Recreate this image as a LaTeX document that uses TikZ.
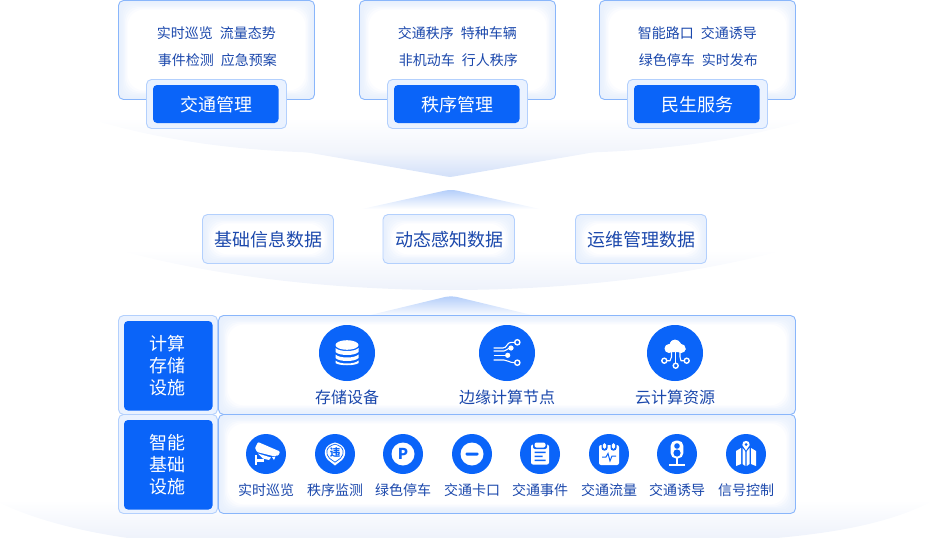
\documentclass[tikz,border=0pt]{standalone}
\usepackage{fontspec}
\setmainfont{Noto Sans CJK SC}
\definecolor{brand}{HTML}{0A64F9}
\definecolor{ink}{HTML}{1B48AC}
\definecolor{edgeblue}{HTML}{89B6FB}
\definecolor{edgesoft}{HTML}{B3D0FD}
\definecolor{glow}{HTML}{E8F0FD}
\definecolor{halo}{HTML}{EAF2FF}
\definecolor{lens}{HTML}{EEF2FB}
\definecolor{tip}{HTML}{D2E0F9}
\definecolor{peak}{HTML}{B4CEFA}
\tikzset{
  fs/.style={font=\fontsize{#1}{#1}\selectfont,inner sep=0pt},
  labelsm/.style={fs=14,text=ink},
  labelmd/.style={fs=16,text=ink},
  labellg/.style={fs=18,text=ink},
  btntext/.style={fs=18,text=white,align=center},
  sidetext/.style={fs=18,text=white,align=center,execute at begin node={\baselineskip=22pt}},
  icw/.style={fill=white,draw=none},
  icl/.style={draw=white,line width=1.1pt,fill=none},
  icb/.style={fill=brand,draw=none},
  disc/.style={circle,fill=brand,minimum size=#1,inner sep=0pt},
}
\newcommand{\glowbox}[6]{% x1 y1 x2 y2 radius edge
  \foreach \i in {0,...,9}{
    \pgfmathsetmacro{\mixp}{min(100,\i*\i*1.6+\i*4)}
    \pgfmathsetmacro{\ins}{\i*1.3}
    \pgfmathsetmacro{\rad}{#5+\i*1.6}
    \fill[white!\mixp!glow,rounded corners=\rad pt] (#1+\ins,#2+\ins) rectangle (#3-\ins,#4-\ins);
  }
  \draw[#6,line width=.9pt,rounded corners=#5pt] (#1,#2) rectangle (#3,#4);
}
\newcommand{\btn}[8]{% outer x1 y1 x2 y2, inner x1 y1 x2 y2
  \draw[edgesoft,fill=halo,line width=.9pt,rounded corners=5pt] (#1,#2) rectangle (#3,#4);
  \fill[brand,rounded corners=4pt] (#5,#6) rectangle (#7,#8);
}
\begin{document}
\begin{tikzpicture}[x=1pt,y=-1pt]
\useasboundingbox (0,0) rectangle (929,538);
% lenses
\shade[top color=white,bottom color=lens!80!white] (100,118) -- (100,122) .. controls (170,142) and (240,150) .. (310,152.5) -- (590,152.5) .. controls (660,150) and (730,142) .. (800,122) -- (800,118) -- cycle;
\shade[top color=lens!80!white,bottom color=tip] (305,152) -- (447,176.6) .. controls (449,177) and (451,177) .. (453,176.6) -- (595,152) -- cycle;
\shade[top color=peak,bottom color=white] (362,209) -- (445,190.6) .. controls (449,189.8) and (453,189.8) .. (457,190.6) -- (540,209) -- cycle;
\shade[top color=white,bottom color=lens] (118,250) .. controls (220,278) and (340,290) .. (450,290) .. controls (560,290) and (680,278) .. (785,250) -- cycle;
\shade[top color=peak,bottom color=white] (362,317) -- (445,297) .. controls (449,296.2) and (453,296.2) .. (457,297) -- (540,317) -- cycle;
\shade[top color=white,bottom color=lens] (0,500) -- (0,503) .. controls (40,522) and (90,533) .. (135,539) -- (765,539) .. controls (840,533) and (890,522) .. (929,503) -- (929,500) -- cycle;
% top cards
\glowbox{118.5}{.5}{314.5}{99.5}{5}{edgeblue}
\glowbox{359.5}{.5}{555.5}{99.5}{5}{edgeblue}
\glowbox{599.5}{.5}{795.5}{99.5}{5}{edgeblue}
\node[labelsm] (t1a) at (216.3,33.5) {实时巡览\hspace{7pt}流量态势};
\node[labelsm] (t1b) at (217.3,60.5) {事件检测\hspace{7pt}应急预案};
\node[labelsm] (t2a) at (457.3,33.5) {交通秩序\hspace{7pt}特种车辆};
\node[labelsm] (t2b) at (458.3,60.5) {非机动车\hspace{7pt}行人秩序};
\node[labelsm] (t3a) at (697.3,33.5) {智能路口\hspace{7pt}交通诱导};
\node[labelsm] (t3b) at (698.3,60.5) {绿色停车\hspace{7pt}实时发布};
\btn{146.5}{79.5}{286.5}{128.5}{153}{85}{278.5}{123}
\btn{387.5}{79.5}{527.5}{128.5}{394}{85}{519.5}{123}
\btn{627.5}{79.5}{767.5}{128.5}{634}{85}{759.5}{123}
\node[btntext] (b1) at (216,104.5) {交通管理};
\node[btntext] (b2) at (457,104.5) {秩序管理};
\node[btntext] (b3) at (697,104.5) {民生服务};
% data boxes
\glowbox{202.5}{214.5}{333.5}{263.5}{5}{edgesoft}
\glowbox{383}{214.5}{514.5}{263.5}{5}{edgesoft}
\glowbox{575.5}{214.5}{706.5}{263.5}{5}{edgesoft}
\node[labellg] (d1) at (268,239.5) {基础信息数据};
\node[labellg] (d2) at (449,239.5) {动态感知数据};
\node[labellg] (d3) at (641,239.5) {运维管理数据};
% infrastructure
\btn{118.5}{315.5}{217.5}{414.5}{124}{321}{212.5}{410.5}
\btn{118.5}{414.5}{217.5}{513.5}{124}{420}{212.5}{509.5}
\node[sidetext] (s1) at (167,366) {计算\\存储\\设施};
\node[sidetext] (s2) at (167,465) {智能\\基础\\设施};
\glowbox{218.5}{315.5}{795.5}{414.5}{5}{edgeblue}
\glowbox{218.5}{414.5}{795.5}{513.5}{5}{edgeblue}
% large icons
\node[disc=56pt] (c1) at (347,353) {};
\node[disc=56pt] (c2) at (507,353) {};
\node[disc=56pt] (c3) at (675,353) {};
\begin{scope}[shift={(347,353)}]
  \fill[icw] (0,-8) ellipse (11.5 and 4.8);
  \fill[icw] (-11.5,-5) .. controls (-8,-1) and (8,-1) .. (11.5,-5) -- (11.5,-1) .. controls (8,3) and (-8,3) .. (-11.5,-1) -- cycle;
  \fill[icw] (-11.5,1.5) .. controls (-8,5.5) and (8,5.5) .. (11.5,1.5) -- (11.5,5) .. controls (8,9) and (-8,9) .. (-11.5,5) -- cycle;
  \fill[icw] (-11.5,7.5) .. controls (-8,11.5) and (8,11.5) .. (11.5,7.5) -- (11.5,10) .. controls (8,13) and (-8,13) .. (-11.5,10) -- cycle;
\end{scope}
\begin{scope}[shift={(507,353)}]
  \draw[icl] (-13.5,-5) -- (-4,-5) .. controls (0,-5) and (0,-10.7) .. (4,-10.7) -- (7.5,-10.7);
  \draw[icl] (-13.5,-2) -- (-3,-2) .. controls (0,-2) and (0,-5) .. (4,-5);
  \draw[icl] (-13.5,2.3) -- (.7,2.3);
  \draw[icl] (-13.5,7) -- (-3,7) .. controls (1,7) and (2,9.7) .. (7.5,9.7);
  \fill[icw] (4,-5) circle (2.6) (.7,2.3) circle (2.6);
  \draw[icl,line width=1.4pt] (10.3,-10.7) circle (2.6) (10.3,9.7) circle (2.6);
\end{scope}
\begin{scope}[shift={(675,353)}]
  \fill[icw,rounded corners=3pt] (-9.5,-1) -- (-9.5,-6) -- (-5,-8) -- (-4,-13) -- (4,-13) -- (6,-8) -- (10.5,-6) -- (10.5,-1) -- cycle;
  \fill[icw] (-6,-4.5) circle (4.5) (0,-8) circle (5.5) (6,-4.5) circle (4.6);
  \draw[icl] (.7,-1) -- (.7,10);
  \draw[icl] (-3.5,-1) -- (-3.5,4) -- (-5,7.7) -- (-8,7.7);
  \draw[icl] (5,-1) -- (5,4) -- (6,7.7) -- (9,7.7);
  \draw[icl,line width=1.4pt] (-10.7,7.7) circle (2.5) (.7,12.7) circle (2.5) (11.7,7.7) circle (2.5);
\end{scope}
\node[labelmd] (l1) at (347,397) {存储设备};
\node[labelmd] (l2) at (507,397) {边缘计算节点};
\node[labelmd] (l3) at (675,397) {云计算资源};
% small icons
\foreach \n/\x in {a/266,b/335,c/403,d/472,e/540,f/609,g/677,h/746}{
  \node[disc=40pt] (i\n) at (\x,454) {};
}
\begin{scope}[shift={(266,454)}]% camera
  \fill[icw,rounded corners=1pt] (-11,-6) -- (-8,-12) -- (14,-2.5) -- (12.5,1.5) -- (7,2) -- (-9,-2) -- cycle;
  \fill[icw] (-8,-.5) -- (5,3.5) -- (3,6) -- (-3,4.5) -- cycle;
  \fill[icw] (-11.5,1) rectangle (-9,11);
  \fill[icw] (-9,4.5) rectangle (-2,7.5);
  \fill[icw] (6,3) -- (9.5,2.5) -- (8,6) -- cycle;
\end{scope}
\begin{scope}[shift={(335,454)}]% pin
  \fill[icw] (0,11.5) -- (-7,6) .. controls (-12,1) and (-12,-9) .. (0,-11.5) .. controls (12,-9) and (12,1) .. (7,6) -- cycle;
  \draw[brand,line width=.7pt] (0,8.2) -- (-5.5,4.3) .. controls (-9.8,0) and (-9.8,-7.5) .. (0,-9.8) .. controls (9.8,-7.5) and (9.8,0) .. (5.5,4.3) -- cycle;
  \node[fs=10,text=brand,font=\fontsize{10.5}{10.5}\bfseries\selectfont] (pinmark) at (0,-1) {违};
\end{scope}
\begin{scope}[shift={(403,454)}]% parking
  \fill[icw] (0,0) circle (11.5);
  \node[fs=15,text=brand,font=\fontsize{15}{15}\selectfont\bfseries] (pmark) at (0,0) {P};
\end{scope}
\begin{scope}[shift={(472,454)}]% no entry
  \fill[icw] (0,0) circle (11.5);
  \fill[brand,rounded corners=1.2pt] (-6.5,-1.5) rectangle (6.5,1.5);
\end{scope}
\begin{scope}[shift={(540,454)}]% clipboard
  \fill[icw,rounded corners=2pt] (-9,-9.5) rectangle (9,10.5);
  \fill[brand,rounded corners=2pt] (-7,-12) rectangle (7,-5);
  \fill[icw,rounded corners=2pt] (-5.5,-11.5) rectangle (5.5,-6.5);
  \fill[brand] (-5.5,-2.5) rectangle (5.5,-1) (-5.5,1.5) rectangle (2.5,3) (-5.5,5.5) rectangle (5.5,7);
\end{scope}
\begin{scope}[shift={(609,454)}]% calendar
  \fill[icw,rounded corners=2pt] (-10,-9) rectangle (10,11);
  \fill[brand,rounded corners=2.5pt] (-7.5,-12) rectangle (-1.5,-3.5) (1.5,-12) rectangle (7.5,-3.5);
  \fill[icw,rounded corners=1.8pt] (-6.2,-11) rectangle (-2.8,-5) (2.8,-11) rectangle (6.2,-5);
  \draw[brand,line width=1pt] (-7,3) -- (-3,3) -- (-1,-.5) -- (1,7) -- (3,2) -- (7,2);
\end{scope}
\begin{scope}[shift={(677,454)}]% signal
  \fill[icw,rounded corners=5.5pt] (-6.4,-13.5) rectangle (6.4,4.5);
  \fill[icw] (-1,4) rectangle (1,10.5);
  \fill[icw] (-8,10) rectangle (8,12.2);
  \fill[brand] (0,-8) circle (2.8) (0,-1) circle (3.6);
\end{scope}
\begin{scope}[shift={(746,454)}]% map
  \fill[icw] (-10,-3) -- (-5,-6) -- (-5,10) -- (-10,12) -- cycle;
  \fill[icw] (-3.5,-6) -- (-.7,-4.5) -- (-.7,12) -- (-3.5,10) -- cycle;
  \fill[icw] (.7,-4.5) -- (3.5,-6) -- (3.5,10) -- (.7,12) -- cycle;
  \fill[icw] (5,-6) -- (10,-3) -- (10,12) -- (5,10) -- cycle;
  \fill[brand] (0,-2) -- (-5,-8) -- (-5,-14) -- (5,-14) -- (5,-8) -- cycle;
  \fill[icw] (0,-3.5) -- (-3.7,-9) .. controls (-4.5,-14.5) and (4.5,-14.5) .. (3.7,-9) -- cycle;
  \fill[brand] (0,-9.5) circle (1.5);
\end{scope}
\node[labelsm] (m1) at (266,490.5) {实时巡览};
\node[labelsm] (m2) at (335,490.5) {秩序监测};
\node[labelsm] (m3) at (403,490.5) {绿色停车};
\node[labelsm] (m4) at (472,490.5) {交通卡口};
\node[labelsm] (m5) at (540,490.5) {交通事件};
\node[labelsm] (m6) at (609,490.5) {交通流量};
\node[labelsm] (m7) at (677,490.5) {交通诱导};
\node[labelsm] (m8) at (746,490.5) {信号控制};
\end{tikzpicture}
\end{document}
